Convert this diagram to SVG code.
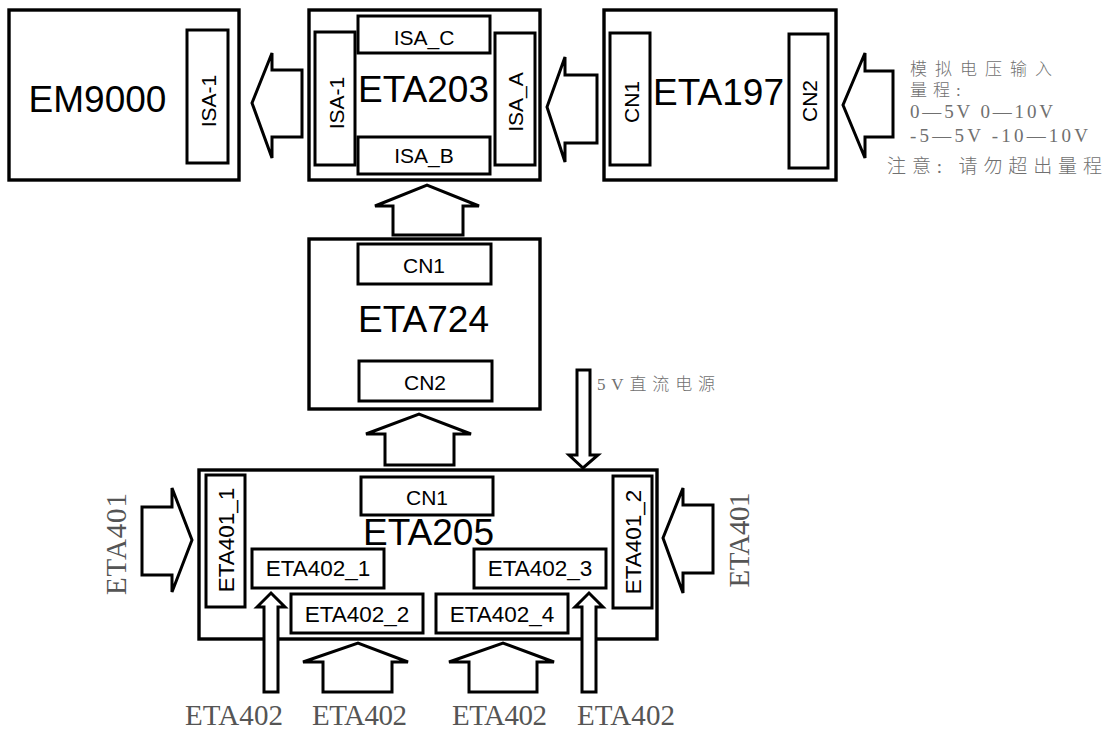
<svg xmlns="http://www.w3.org/2000/svg" width="1109" height="729" viewBox="0 0 1109 729">
<style>
.box{fill:#fff;stroke:#000;stroke-width:3.4}
.inner{fill:#fff;stroke:#000;stroke-width:3}
.arr{fill:#fff;stroke:#000;stroke-width:3;stroke-linejoin:miter}
.title{font-family:"Liberation Sans",Arial,sans-serif;font-size:37px;fill:#000;text-anchor:middle}
.lbl{font-family:"Liberation Sans",Arial,sans-serif;font-size:21px;fill:#000;text-anchor:middle}
.lbl2{font-family:"Liberation Sans",Arial,sans-serif;font-size:22.5px;fill:#000;text-anchor:middle}
.note{font-family:"Liberation Serif","Noto Sans CJK SC",serif;fill:#707070;font-weight:300}
.ser{font-family:"Liberation Serif",serif;font-size:29px;fill:#555}
</style>
<rect width="1109" height="729" fill="#fff"/>

<g id="em9000">
<rect class="box" x="9" y="10" width="230" height="170"/>
<rect class="inner" x="187" y="30" width="41" height="133"/>
<text class="title" x="97.5" y="112" font-size="38">EM9000</text>
<text class="lbl" transform="translate(208,101) rotate(-90)" x="0" y="7.5">ISA-1</text>
</g>

<g id="eta203">
<rect class="box" x="309" y="10" width="231" height="170"/>
<rect class="inner" x="358" y="16" width="132" height="37"/>
<rect class="inner" x="358" y="137" width="132" height="37"/>
<rect class="inner" x="315" y="32" width="40" height="133"/>
<rect class="inner" x="495" y="33" width="40" height="132"/>
<text class="title" x="423.5" y="102">ETA203</text>
<text class="lbl" x="424" y="45" font-size="22.5">ISA_C</text>
<text class="lbl" x="424" y="163" font-size="22.5">ISA_B</text>
<text class="lbl" transform="translate(336,103) rotate(-90)" x="0" y="7.5">ISA-1</text>
<text class="lbl" transform="translate(515,102) rotate(-90)" x="0" y="7.5">ISA_A</text>
</g>

<g id="eta197">
<rect class="box" x="604" y="10" width="232" height="170"/>
<rect class="inner" x="610" y="33" width="40" height="132"/>
<rect class="inner" x="789" y="34" width="39" height="134"/>
<text class="title" x="718.5" y="105">ETA197</text>
<text class="lbl" transform="translate(631,102) rotate(-90)" x="0" y="7.5">CN1</text>
<text class="lbl" transform="translate(809,101) rotate(-90)" x="0" y="7.5">CN2</text>
</g>

<g id="input-note">
<text class="note" x="910" y="75" font-size="17" textLength="142" lengthAdjust="spacing">模拟电压输入</text>
<text class="note" x="910" y="96" font-size="17" letter-spacing="6">量程:</text>
<text class="note" x="910" y="118" font-size="19" textLength="143" lengthAdjust="spacing">0—5V 0—10V</text>
<text class="note" x="910" y="142" font-size="19" textLength="178" lengthAdjust="spacing">-5—5V -10—10V</text>
<text class="note" x="887" y="173" font-size="19" textLength="215" lengthAdjust="spacing">注意: 请勿超出量程</text>
</g>

<g id="eta724">
<rect class="box" x="309" y="239" width="231" height="170"/>
<rect class="inner" x="358" y="244" width="133" height="40"/>
<rect class="inner" x="359" y="361" width="133" height="40"/>
<text class="title" x="423.5" y="332">ETA724</text>
<text class="lbl" x="424" y="273">CN1</text>
<text class="lbl" x="425" y="390">CN2</text>
</g>

<g id="power-note">
<text class="note" x="597" y="390" font-size="17" textLength="118" lengthAdjust="spacing">5V直流电源</text>
</g>

<g id="eta205">
<rect class="box" x="199" y="470" width="458" height="169"/>
<rect class="inner" x="206" y="475" width="39" height="132"/>
<rect class="inner" x="613" y="476" width="39" height="132"/>
<rect class="inner" x="361" y="477" width="132" height="38"/>
<rect class="inner" x="252" y="549" width="132" height="39"/>
<rect class="inner" x="291" y="594" width="132" height="39"/>
<rect class="inner" x="474" y="549" width="132" height="39"/>
<rect class="inner" x="436" y="594" width="132" height="39"/>
<text class="title" x="428.5" y="545">ETA205</text>
<text class="lbl" x="427" y="505">CN1</text>
<text class="lbl2" x="318" y="576">ETA402_1</text>
<text class="lbl2" x="357" y="622">ETA402_2</text>
<text class="lbl2" x="540" y="576">ETA402_3</text>
<text class="lbl2" x="502" y="622">ETA402_4</text>
<text class="lbl2" transform="translate(226,540) rotate(-90)" x="0" y="8" font-size="22">ETA401_1</text>
<text class="lbl2" transform="translate(633,542) rotate(-90)" x="0" y="8" font-size="22">ETA401_2</text>
</g>

<g id="external-labels">
<text class="ser" transform="translate(116,544) rotate(-90)" x="0" y="10" text-anchor="middle" textLength="102" lengthAdjust="spacing">ETA401</text>
<text class="ser" transform="translate(739,540) rotate(-90)" x="0" y="10" text-anchor="middle" textLength="95" lengthAdjust="spacing">ETA401</text>
<text class="ser" x="185" y="725" textLength="98" lengthAdjust="spacing">ETA402</text>
<text class="ser" x="312" y="725" textLength="95" lengthAdjust="spacing">ETA402</text>
<text class="ser" x="452" y="725" textLength="95" lengthAdjust="spacing">ETA402</text>
<text class="ser" x="577" y="725" textLength="98" lengthAdjust="spacing">ETA402</text>
</g>

<g id="connectors">
<polygon class="arr" points="302,70 272,70 272,53 252,103 272,158 272,137 302,137"/>
<polygon class="arr" points="597,75 565,75 565,57 547,107 565,162 565,143 597,143"/>
<polygon class="arr" points="893,71 865,71 865,53 843,105 865,158 865,137 893,137"/>
<polygon class="arr" points="393,235 393,206 375,206 427,185 479,206 463,206 463,235"/>
<polygon class="arr" points="385,465 385,434 366,434 419,414 471,434 454,434 454,465"/>
<polygon class="arr" points="577,370 590,370 590,455 598,455 583,468 569,455 577,455"/>
<polygon class="arr" points="142,507 172,507 172,488 192,540 172,592 172,575 142,575"/>
<polygon class="arr" points="713,505 683,505 683,488 663,538 683,593 683,573 713,573"/>
<polygon class="arr" points="264,692 264,607 257,607 271,593 285,607 278,607 278,692"/>
<polygon class="arr" points="582,692 582,607 575,607 589,593 603,607 596,607 596,692"/>
<polygon class="arr" points="323,692 323,662 303,662 358,643 408,662 392,662 392,692"/>
<polygon class="arr" points="469,692 469,662 449,662 503,643 554,662 537,662 537,692"/>
</g>
</svg>
